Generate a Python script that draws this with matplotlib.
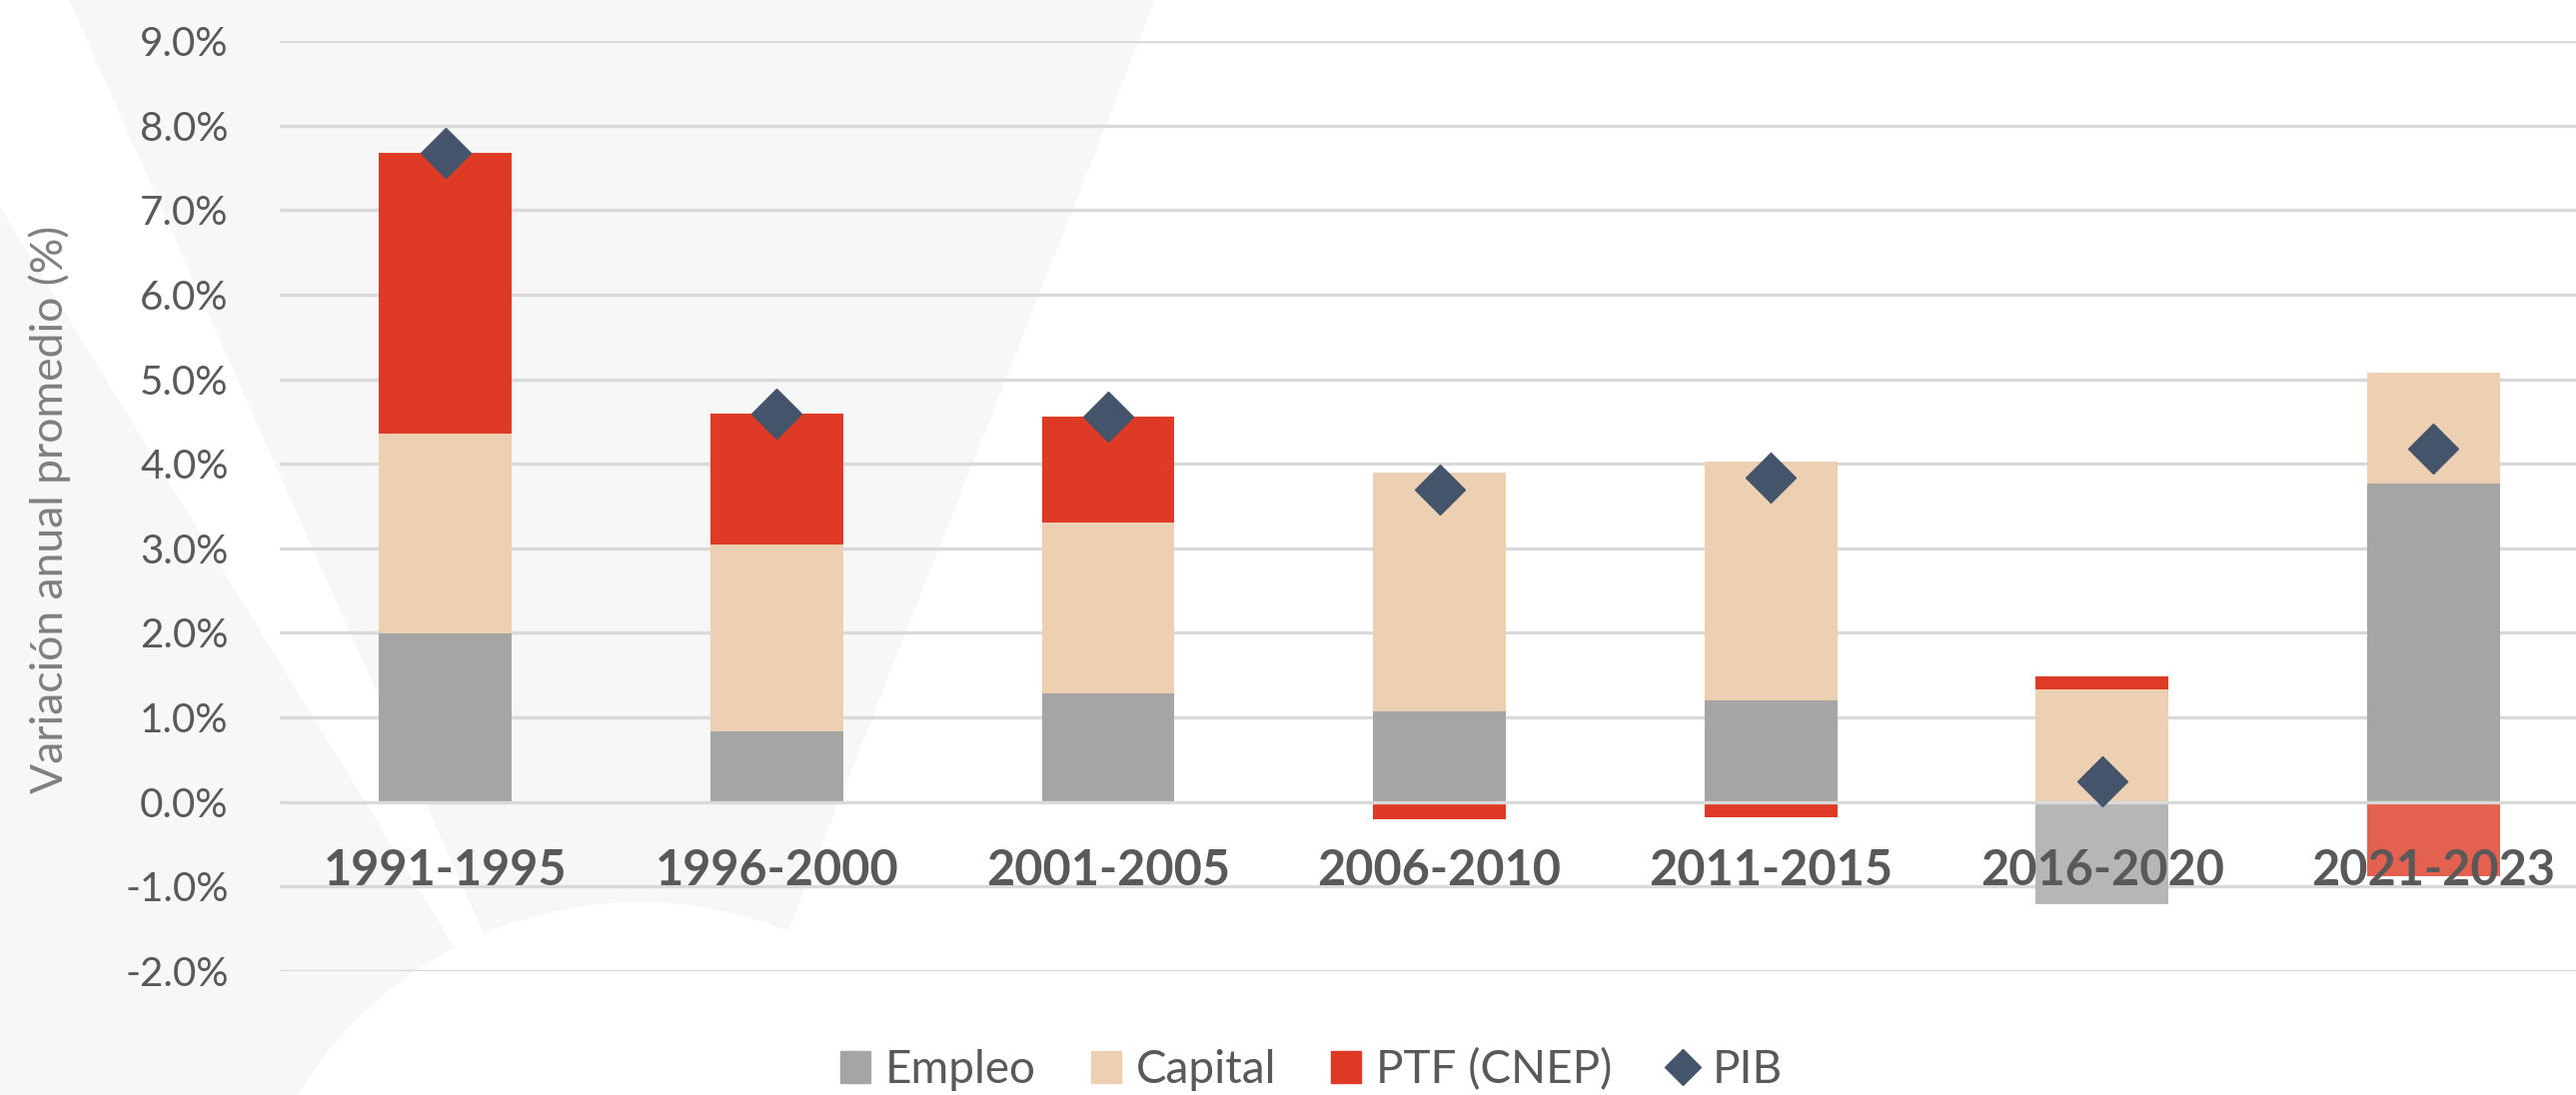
import matplotlib
matplotlib.use('Agg')
import matplotlib.pyplot as plt
from matplotlib.patches import Polygon, Circle, Patch
from matplotlib.lines import Line2D
import numpy as np

plt.rcParams['font.family'] = ['Lato', 'DejaVu Sans']

periodos = ['1991-1995', '1996-2000', '2001-2005', '2006-2010',
            '2011-2015', '2016-2020', '2021-2023']
empleo = [1.99, 0.83, 1.28, 1.07, 1.20, -1.21, 3.77]
capital = [2.37, 2.22, 2.02, 2.82, 2.82, 1.33, 1.31]
ptf = [3.32, 1.54, 1.26, -0.20, -0.18, 0.15, -0.88]
pib = [7.68, 4.59, 4.56, 3.69, 3.84, 0.25, 4.18]
yticks = [-2, -1, 0, 1, 2, 3, 4, 5, 6, 7, 8, 9]

c_empleo = ['#a5a5a5'] * 5 + ['#b6b6b6', '#a5a5a5']
c_capital = '#edcfb2'
c_ptf = ['#df3a25'] * 6 + ['#e4604f']
c_pib = '#44546a'
txt = '#595959'

fig = plt.figure(figsize=(25.78, 10.96), dpi=100)

# decorative background
bg = fig.add_axes([0, 0, 1, 1], zorder=0)
bg.set_xlim(0, 2578)
bg.set_ylim(1096, 0)
bg.axis('off')
gris = '#f7f7f7'
bg.add_patch(Polygon([(69, 0), (1156, 0), (645, 1297)], color=gris, lw=0))
bg.add_patch(Polygon([(0, 207), (560, 1120), (0, 1120)], color=gris, lw=0))
bg.add_patch(Circle((640, 1303), 400, color='white', lw=0))

ax = fig.add_axes([280 / 2578, 1 - 972 / 1096, 1 - 280 / 2578, (972 - 41) / 1096], zorder=1)
ax.patch.set_alpha(0)

x = np.arange(len(periodos))
w = 0.4
pos = np.zeros(len(x))
neg = np.zeros(len(x))
for vals, col in [(empleo, c_empleo), (capital, c_capital), (ptf, c_ptf)]:
    v = np.array(vals)
    bottom = np.where(v >= 0, pos, neg)
    ax.bar(x, v, w, bottom=bottom, color=col, zorder=2)
    pos = pos + np.where(v >= 0, v, 0)
    neg = neg + np.where(v < 0, v, 0)

ax.plot(x, pib, 'D', color=c_pib, ms=25, zorder=4, linestyle='none')

for t in yticks:
    ax.axhline(t, color='#d9d9d9', lw=2.4, zorder=1 if t != 0 else 3)

for xi, p in zip(x, periodos):
    ax.text(xi, -0.98, p, ha='center', va='baseline', fontsize=35,
            fontweight='bold', color=txt, zorder=5)

ax.set_xlim(-0.5, 6.43)
ax.set_ylim(-2, 9)
ax.set_yticks(yticks)
ax.set_yticklabels([f'{t:.1f}%' for t in yticks], fontsize=29, color=txt)
ax.tick_params(axis='y', length=0, pad=37)
ax.set_xticks([])
for s in ax.spines.values():
    s.set_visible(False)

fig.text(50 / 2578, 0.535, 'Variación anual promedio (%)', rotation=90,
         ha='center', va='center', fontsize=32, color='#7f7f7f')

handles = [Patch(color=c_empleo[0], label='Empleo'),
           Patch(color=c_capital, label='Capital'),
           Patch(color=c_ptf[0], label='PTF (CNEP)'),
           Line2D([], [], marker='D', color=c_pib, ms=18, linestyle='none', label='PIB')]
leg = fig.legend(handles=handles, loc='center', bbox_to_anchor=(0.509, 0.023),
                 ncol=4, frameon=False, fontsize=33, handlelength=0.66,
                 handleheight=0.7, handletextpad=0.32, columnspacing=1.2)
for t in leg.get_texts():
    t.set_color(txt)

fig.savefig('out.png', dpi=100)
